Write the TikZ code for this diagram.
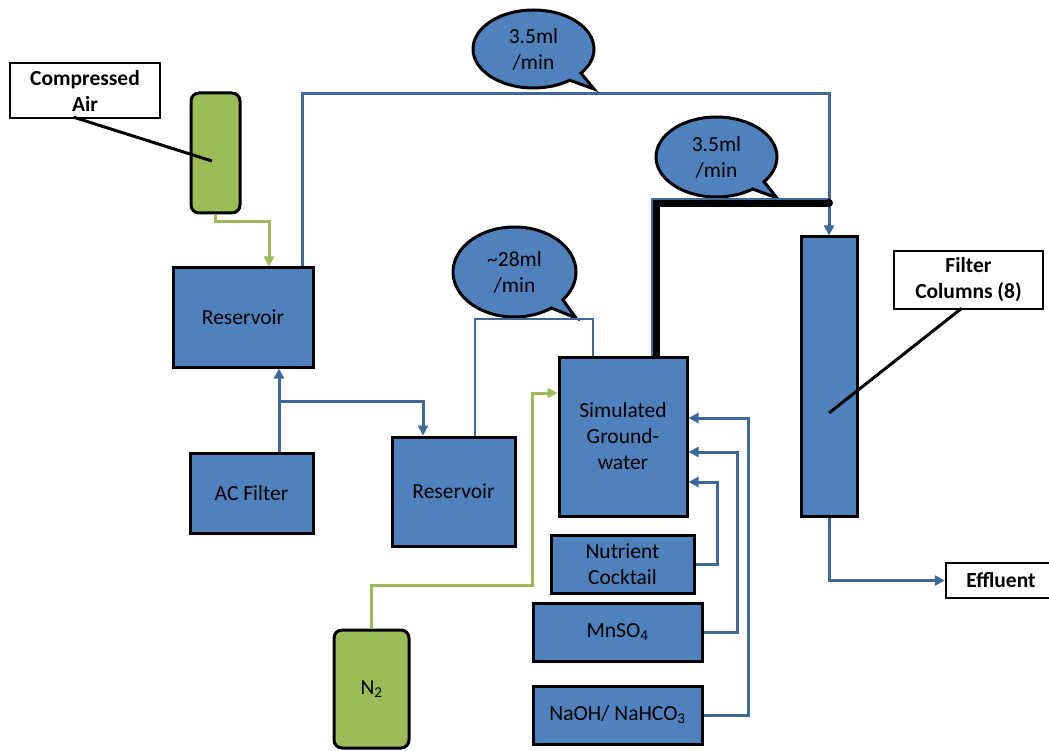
\documentclass[tikz,border=0pt]{standalone}
\usepackage{fontspec}
\setmainfont{Carlito}
\usetikzlibrary{arrows.meta,shapes.callouts}
\definecolor{boxblue}{HTML}{4F81BD}
\definecolor{connblue}{HTML}{3D6899}
\definecolor{gasgreen}{HTML}{9BBB59}
\begin{document}
\begin{tikzpicture}[x=1pt,y=-1pt,
  every node/.style={font=\fontsize{21.5}{26}\selectfont, align=center, text=black},
  box/.style={draw=black, line width=3pt, fill=boxblue, inner sep=0pt},
  cyl/.style={draw=black, line width=3pt, fill=gasgreen, rounded corners=8pt, inner sep=0pt},
  labelbox/.style={draw=black, line width=2.5pt, fill=white, inner sep=0pt, font=\fontsize{21.5}{26}\selectfont\bfseries},
  bubble/.style={ellipse callout, draw=black, line width=3pt, fill=boxblue, inner sep=0pt},
  bline/.style={draw=connblue, line width=3pt},
  thinline/.style={draw=connblue, line width=2pt},
  gline/.style={draw=gasgreen, line width=3pt},
  leader/.style={draw=black, line width=3pt},
  tip/.style={-{Triangle[length=10pt,width=10pt]}}
]
\useasboundingbox (0,0) rectangle (1049,751);

% nodes
\node[labelbox, minimum width=150pt, minimum height=55pt] (airlbl) at (85,90.5) {Compressed\\Air};
\node[cyl, minimum width=49pt, minimum height=120pt] (aircyl) at (215.5,153) {};
\node[box, minimum width=140pt, minimum height=99pt] (res1) at (243,317.5) {Reservoir};
\node[box, minimum width=123pt, minimum height=80pt] (acf) at (251.5,493) {AC Filter};
\node[box, minimum width=123pt, minimum height=109pt] (res2) at (453.5,491.5) {Reservoir};
\node[box, minimum width=128pt, minimum height=159pt] (gw) at (623,436.5) {Simulated\\Ground-\\water};
\node[box, minimum width=143pt, minimum height=58pt] (nut) at (622.5,564) {Nutrient\\Cocktail};
\node[box, minimum width=169pt, minimum height=58pt] (mn) at (617.5,632) {MnSO\textsubscript{4}};
\node[box, minimum width=169pt, minimum height=58pt] (naoh) at (617.5,715) {NaOH/ NaHCO\textsubscript{3}};
\node[cyl, minimum width=75pt, minimum height=118pt] (n2) at (371.5,689) {N\textsubscript{2}};
\node[box, minimum width=56pt, minimum height=279pt] (fc) at (829,376.5) {};
\node[labelbox, minimum width=149pt, minimum height=58pt] (fclbl) at (968.5,280) {Filter\\Columns (8)};
\node[labelbox, minimum width=124pt, minimum height=35pt] (eff) at (1008,580.5) {\hspace*{-14pt}Effluent};

\node[bubble, minimum width=121pt, minimum height=78pt, callout absolute pointer={(594,89)}] (b1) at (533.5,49) {3.5ml\\/min};
\node[bubble, minimum width=121pt, minimum height=80pt, callout absolute pointer={(777,198)}] (b2) at (716.5,157) {3.5ml\\/min};
\node[bubble, minimum width=123pt, minimum height=90pt, callout absolute pointer={(576,318)}] (b3) at (514.5,272) {\textasciitilde 28ml\\/min};

% leader lines
\coordinate (airpt) at (212,161);
\coordinate (fcpt) at (829,413);
\draw[leader] (airlbl.south west) ++(65,-2) -- (airpt);
\draw[leader] (fclbl.south west) ++(69,-2) -- (fcpt);

% gas lines
\draw[gline, tip] (aircyl.south) |- (269,222) -- (269,0 |- res1.north);
\draw[gline, tip] (n2.north) |- (532,585) |- (gw.west |- 0,393);

% water lines
\draw[bline, tip] (302,0 |- res1.north) |- (fc.north |- 0,94) -- (fc.north);
\draw[bline, tip] (279,0 |- acf.north) -- (279,0 |- res1.south);
\draw[bline, tip] (279,401) -| (423,0 |- res2.north);
\draw[thinline] (593,0 |- gw.north) |- (475,319) -- (475,0 |- res2.north);
\draw[draw=black, line width=8pt] (656,0 |- gw.north) |- (829,203);
\draw[draw=connblue, line width=2pt] (652,0 |- gw.north) |- (829,199);
\fill[black] (829,203) circle (4pt);
\draw[bline, tip] (nut.east) -| (717,482) -- (gw.east |- 0,482);
\draw[bline, tip] (mn.east) -| (737,452) -- (gw.east |- 0,452);
\draw[bline, tip] (naoh.east) -| (748,418) -- (gw.east |- 0,418);
\draw[bline, tip] (fc.south) |- (eff.west);
\end{tikzpicture}
\end{document}
